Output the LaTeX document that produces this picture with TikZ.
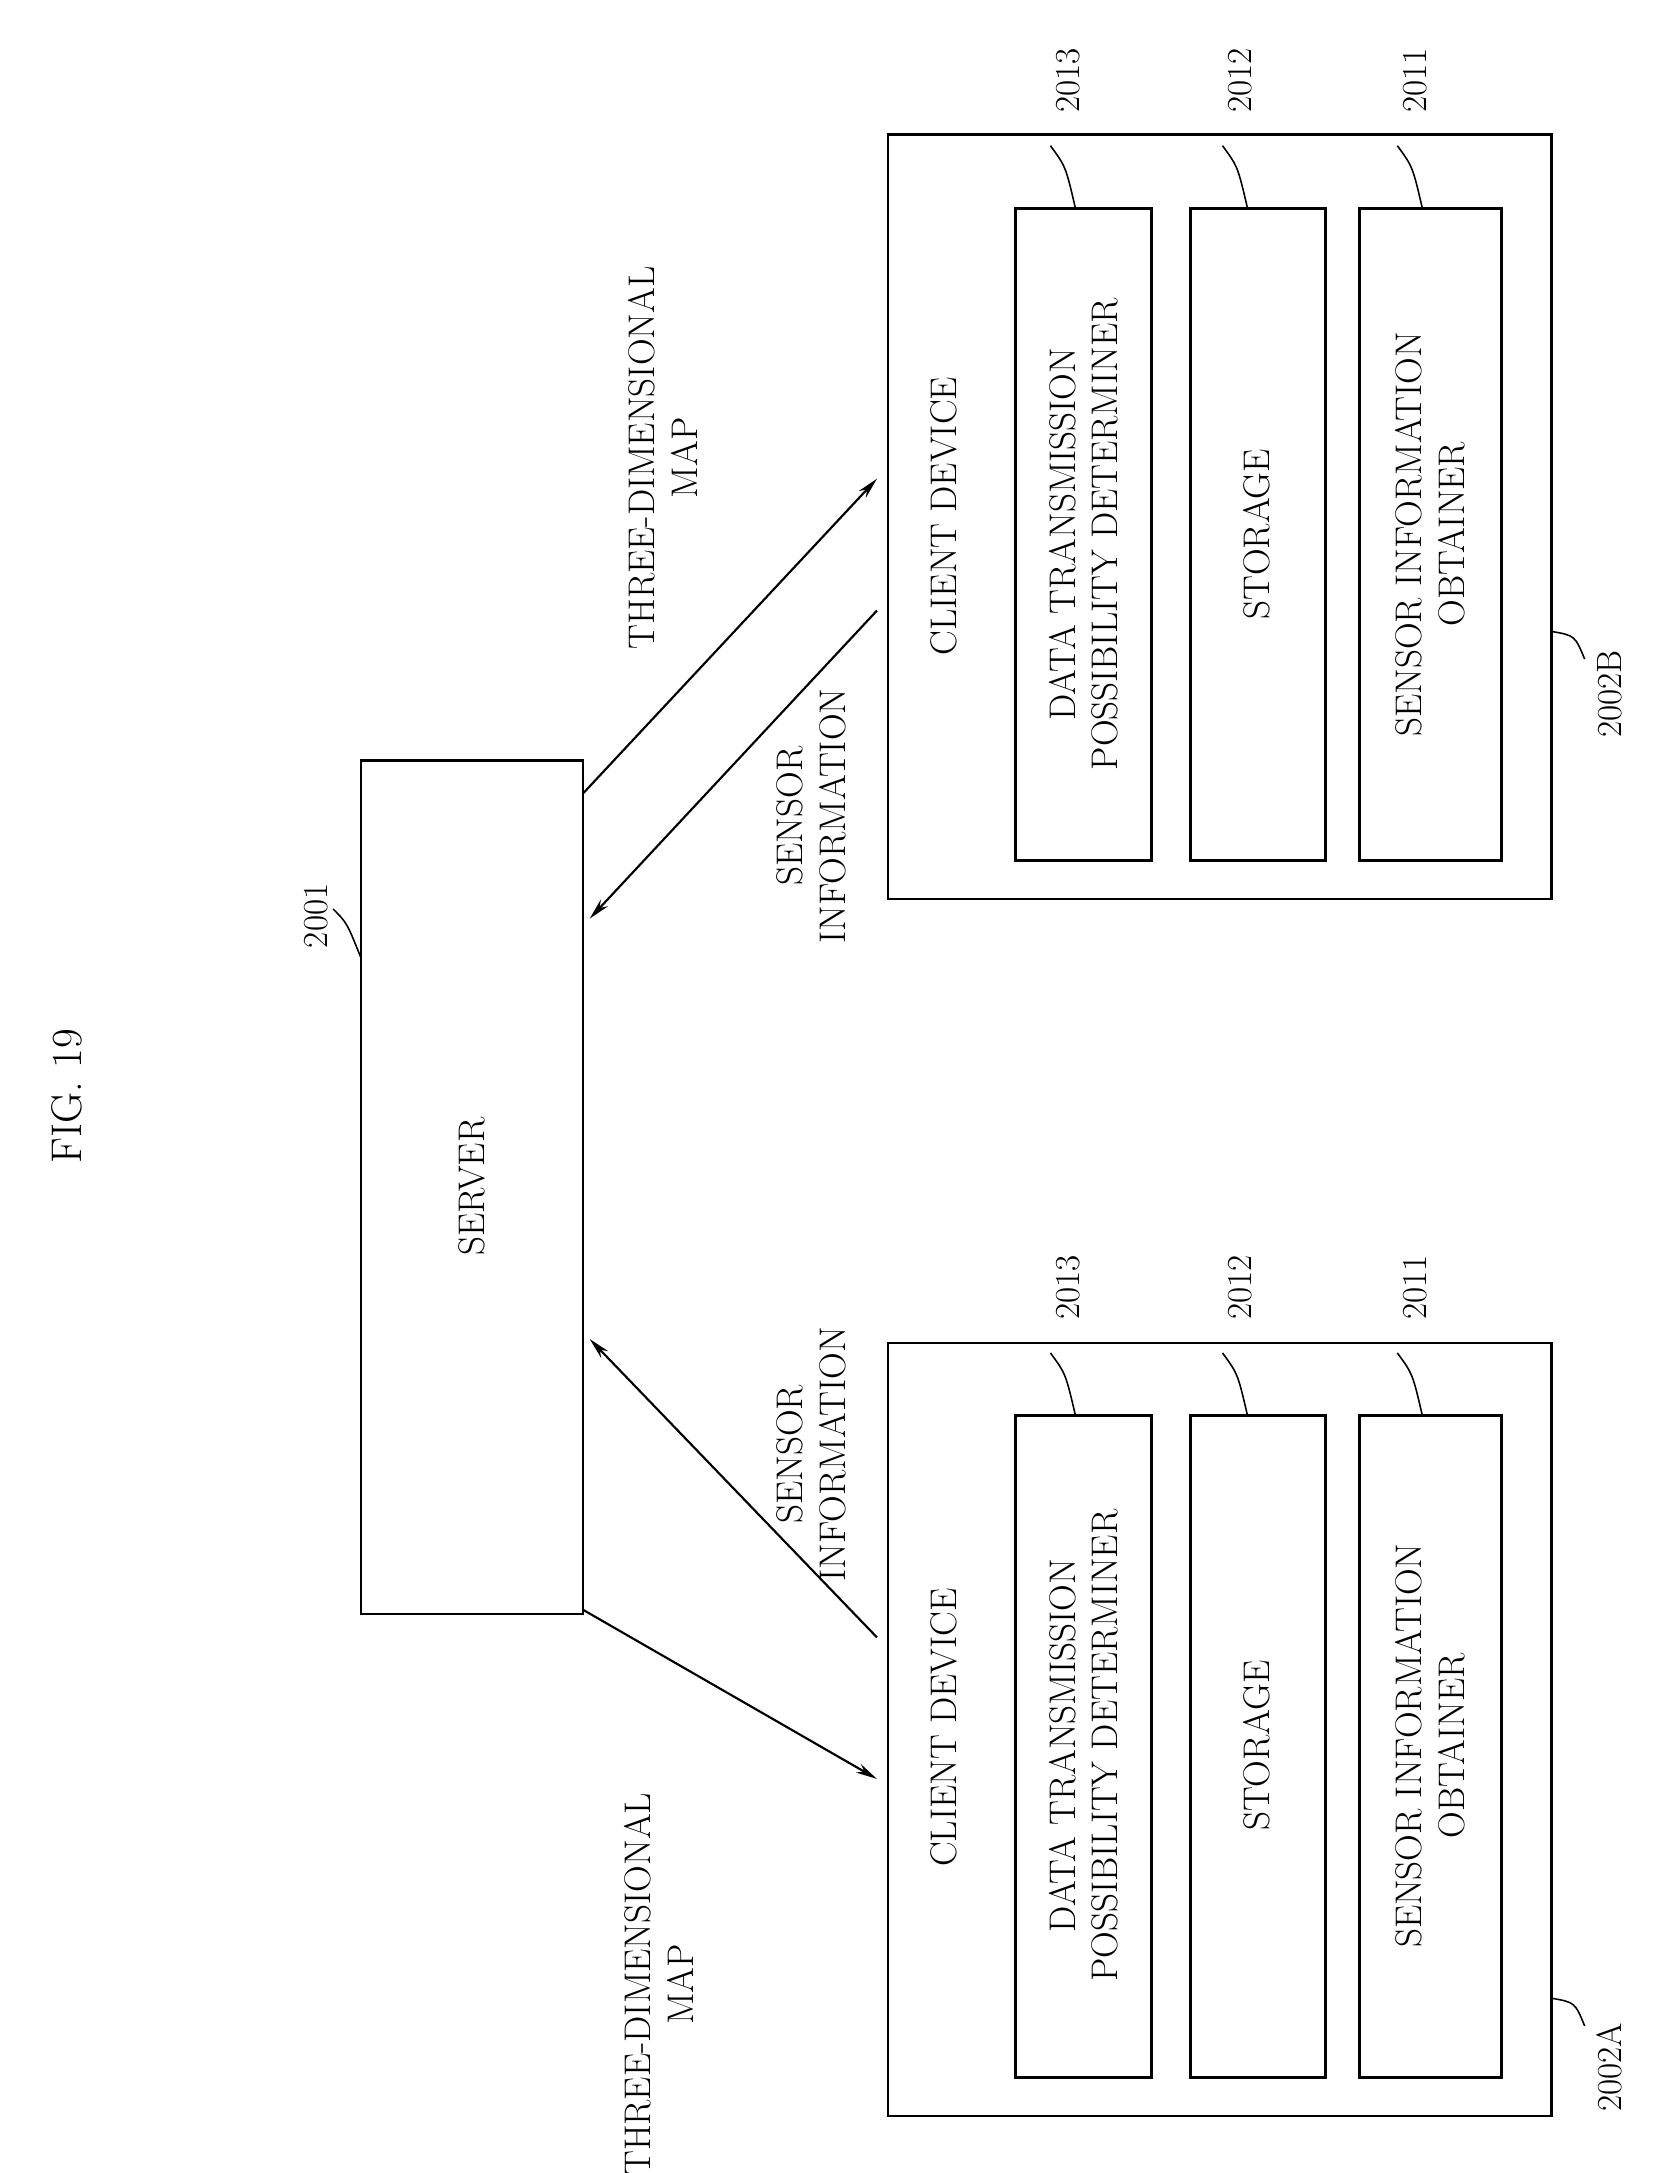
\documentclass[tikz,border=0pt]{standalone}
\usetikzlibrary{arrows.meta}
\begin{document}
\begin{tikzpicture}[x=0.05cm,y=-0.05cm,
  box/.style={draw,line width=2.6pt},
  inner/.style={draw,line width=3.2pt},
  txt/.style={rotate=90,font=\fontsize{38}{44}\selectfont,align=center,inner sep=0pt},
  ref/.style={rotate=90,font=\fontsize{36}{40}\selectfont,inner sep=0pt},
  arr/.style={line width=2.2pt,-{Stealth[length=22pt,width=10pt,open]}},
  lead/.style={line width=1.6pt}]
\useasboundingbox (0,0) rectangle (1200,1566);
\node[txt,font=\fontsize{44}{50}\selectfont] (fig) at (48,790) {FIG. 19};
% server
\draw[box] (260,548) rectangle (420,1163);
\node[txt] (srv) at (340,855) {SERVER};
\node[ref] (r2001) at (228,660) {2001};
\draw[lead] (240,655) .. controls (250,665) .. (260,690);
% client B
\draw[box] (640,97) rectangle (1118,648);
\node[txt] (cdB) at (680,372) {CLIENT DEVICE};
\draw[inner] (732,150) rectangle (830,620);
\draw[inner] (858,150) rectangle (955,620);
\draw[inner] (980,150) rectangle (1082,620);
\node[txt] (dB) at (781,385) {DATA TRANSMISSION\\POSSIBILITY DETERMINER};
\node[txt] (sB) at (906,385) {STORAGE};
\node[txt] (oB) at (1031,385) {SENSOR INFORMATION\\OBTAINER};
\node[ref] (b13) at (770,58) {2013};
\node[ref] (b12) at (894,58) {2012};
\node[ref] (b11) at (1020,58) {2011};
\draw[lead] (757,105) .. controls (768,120) .. (775,150);
\draw[lead] (881,105) .. controls (892,120) .. (899,150);
\draw[lead] (1007,105) .. controls (1018,120) .. (1025,150);
\node[ref] (b2) at (1160,500) {2002B};
\draw[lead] (1118,455) .. controls (1135,458) .. (1142,475);
% client A
\draw[box] (640,968) rectangle (1118,1525);
\node[txt] (cdA) at (680,1245) {CLIENT DEVICE};
\draw[inner] (732,1020) rectangle (830,1497);
\draw[inner] (858,1020) rectangle (955,1497);
\draw[inner] (980,1020) rectangle (1082,1497);
\node[txt] (dA) at (781,1258) {DATA TRANSMISSION\\POSSIBILITY DETERMINER};
\node[txt] (sA) at (906,1258) {STORAGE};
\node[txt] (oA) at (1031,1258) {SENSOR INFORMATION\\OBTAINER};
\node[ref] (a13) at (770,928) {2013};
\node[ref] (a12) at (894,928) {2012};
\node[ref] (a11) at (1020,928) {2011};
\draw[lead] (757,975) .. controls (768,990) .. (775,1020);
\draw[lead] (881,975) .. controls (892,990) .. (899,1020);
\draw[lead] (1007,975) .. controls (1018,990) .. (1025,1020);
\node[ref] (a2) at (1160,1490) {2002A};
\draw[lead] (1118,1440) .. controls (1135,1443) .. (1142,1460);
% arrows
\coordinate (s1) at (420,572); \coordinate (c1) at (632,345);
\coordinate (c2) at (632,440); \coordinate (s2) at (425,662);
\coordinate (s3) at (420,1160); \coordinate (c3) at (632,1282);
\coordinate (c4) at (632,1180); \coordinate (s4) at (425,965);
\draw[arr] (s1) -- (c1);
\draw[arr] (c2) -- (s2);
\draw[arr] (s3) -- (c3);
\draw[arr] (c4) -- (s4);
\node[txt] (l1) at (478,330) {THREE-DIMENSIONAL\\MAP};
\node[txt] (l2) at (585,588) {SENSOR\\INFORMATION};
\node[txt] (l3) at (585,1048) {SENSOR\\INFORMATION};
\node[txt] (l4) at (475,1430) {THREE-DIMENSIONAL\\MAP};
\end{tikzpicture}
\end{document}
